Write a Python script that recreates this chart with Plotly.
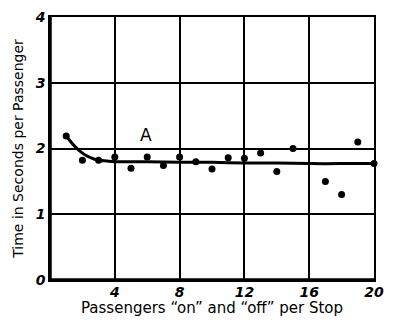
import plotly.graph_objects as go

# observed points: passengers on/off per stop vs seconds per passenger
passengers = [1, 2, 3, 4, 5, 6, 7, 8, 9, 10, 11, 12, 13, 14, 15, 17, 18, 19, 20]
seconds = [2.19, 1.82, 1.82, 1.87, 1.70, 1.87, 1.74, 1.87, 1.80, 1.69, 1.86, 1.85,
           1.93, 1.65, 2.00, 1.50, 1.30, 2.10, 1.77]

# smooth curve "A" drawn through the points
curve_x = [1, 1.5, 2, 2.5, 3, 3.5, 4, 6, 8, 10, 12, 14, 16, 18, 20]
curve_y = [2.19, 2.04, 1.93, 1.86, 1.82, 1.81, 1.80, 1.80, 1.79, 1.79, 1.78, 1.78, 1.77, 1.77, 1.77]

x_ticks = [4, 8, 12, 16, 20]
y_ticks = [0, 1, 2, 3, 4]

ink = "black"
fig = go.Figure()
fig.add_trace(go.Scatter(
    x=curve_x, y=curve_y,
    mode="lines",
    line=dict(color=ink, width=3, shape="spline", smoothing=0.6),
    hoverinfo="skip",
    cliponaxis=False
))
fig.add_trace(go.Scatter(
    x=passengers, y=seconds,
    mode="markers",
    marker=dict(color=ink, size=7),
    hovertemplate="%{x}: %{y:.2f}s<extra></extra>",
    cliponaxis=False
))
fig.add_annotation(
    x=5.9, y=2.2, text="A", showarrow=False,
    font=dict(family="DejaVu Sans", size=17, color=ink)
)

# heavy left and bottom borders, lighter top and right
fig.add_shape(type="line", xref="paper", yref="paper", x0=0, x1=0, y0=0, y1=1,
              line=dict(color=ink, width=3.5))
fig.add_shape(type="line", xref="paper", yref="paper", x0=0, x1=1, y0=0, y1=0,
              line=dict(color=ink, width=3.5))

# page body adds an 8px margin, so the figure is sized to sit inside it
fig.update_layout(
    width=377, height=309,
    margin=dict(l=42, r=1, t=3, b=37),
    paper_bgcolor="white",
    plot_bgcolor="white",
    showlegend=False,
    font=dict(family="DejaVu Sans", size=13, color=ink),
)
fig.update_xaxes(
    range=[0, 20],
    tickvals=x_ticks,
    ticks="",
    showgrid=True, gridcolor=ink, gridwidth=1.5,
    showline=True, linecolor=ink, linewidth=1.5, mirror=True,
    zeroline=False,
    ticklabelstandoff=-2,
    ticklabeloverflow="allow",
    tickfont=dict(size=14, style="italic", weight="bold"),
    title=dict(text="Passengers \u201con\u201d and \u201coff\u201d per Stop",
               font=dict(size=15), standoff=3),
)
fig.update_yaxes(
    range=[0, 4],
    tickvals=y_ticks,
    ticks="",
    showgrid=True, gridcolor=ink, gridwidth=1.5,
    showline=True, linecolor=ink, linewidth=1.5, mirror=True,
    zeroline=False,
    ticklabeloverflow="allow",
    tickfont=dict(size=14, style="italic", weight="bold"),
    title=dict(text="Time in Seconds per Passenger", font=dict(size=14), standoff=8),
)

fig.write_html("out.html")
